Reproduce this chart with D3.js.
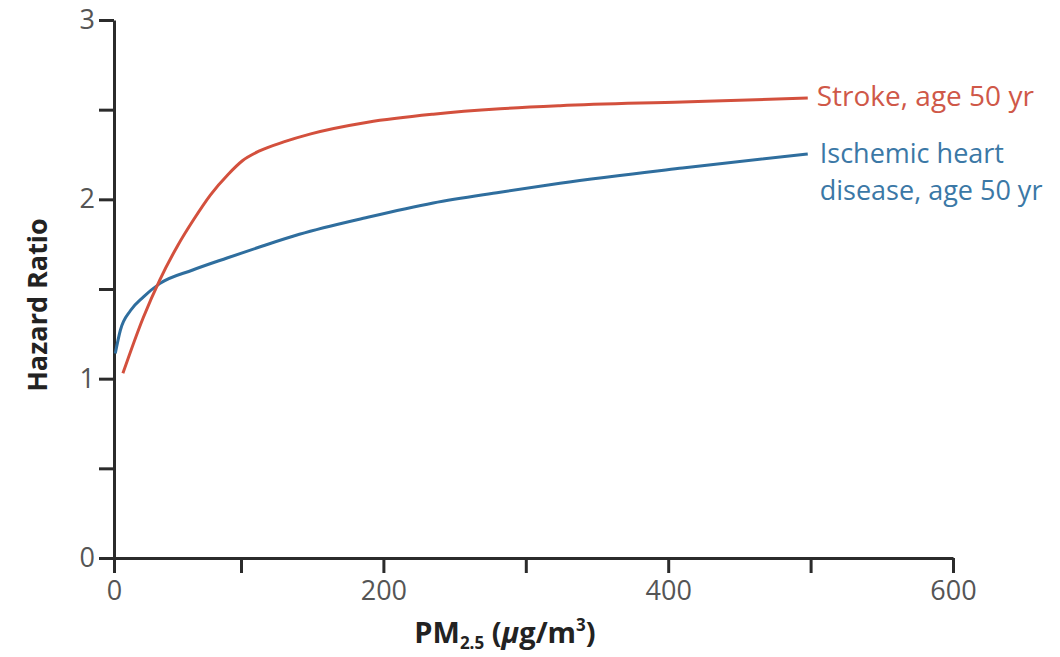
<!DOCTYPE html>
<html>
<head>
<meta charset="utf-8">
<script src="https://cdn.jsdelivr.net/npm/d3@7"></script>
<style>
  body { margin: 0; background: #fff; }
  svg { display: block; font-family: "Open Sans", sans-serif; }
  .axis path, .axis line { stroke: #2b2b2b; stroke-width: 3; }
  .axis text { fill: #555; font-size: 27px; font-family: "Open Sans", sans-serif; }
</style>
</head>
<body>
<svg id="chart"></svg>
<script>
// PM2.5 values (ug/m3) and hazard ratios
const strokeX = [7, 23, 36, 50, 63, 76, 90, 101, 113, 130, 149, 189, 235, 282, 324, 410, 498];
const strokeY = [1.03, 1.34, 1.55, 1.74, 1.89, 2.025, 2.14, 2.215, 2.27, 2.32, 2.365, 2.43, 2.475, 2.505, 2.522, 2.543, 2.565];

const ihdX = [1, 5, 13, 23, 36, 62, 89, 113, 141, 189, 235, 282, 324, 410, 498];
const ihdY = [1.14, 1.27, 1.38, 1.455, 1.53, 1.606, 1.673, 1.734, 1.805, 1.90, 1.98, 2.04, 2.09, 2.175, 2.253];

const xTicks = [0, 100, 200, 300, 400, 500, 600];
const xLabels = [0, 200, 400, 600];
const yTicks = [0, 0.5, 1, 1.5, 2, 2.5, 3];
const yLabels = [0, 1, 2, 3];

const strokeLabel = ["Stroke, age 50 yr"];
const ihdLabel = ["Ischemic heart", "disease, age 50 yr"];

const width = 1060, height = 657;
const red = "#d3503d", blue = "#2f6e9e";

const svg = d3.select("#chart")
    .attr("width", width)
    .attr("height", height);

// the original's first interval is drawn a little short
const x = d3.scaleLinear()
    .domain([0, 100, 600])
    .range([114, 241, 953]);

const y = d3.scaleLinear()
    .domain([0, 3])
    .range([558, 20]);

svg.append("g")
    .attr("class", "axis")
    .attr("transform", `translate(0, ${y(0)})`)
    .call(d3.axisBottom(x)
        .tickValues(xTicks)
        .tickSize(15)
        .tickSizeOuter(0)
        .tickPadding(8)
        .tickFormat(d => xLabels.includes(d) ? d : ""));

svg.append("g")
    .attr("class", "axis")
    .attr("transform", `translate(${x(0)}, 0)`)
    .call(d3.axisLeft(y)
        .tickValues(yTicks)
        .tickSize(15)
        .tickSizeOuter(0)
        .tickPadding(4)
        .tickFormat(d => yLabels.includes(d) ? d : ""));

const line = d3.line()
    .x(d => x(d[0]))
    .y(d => y(d[1]))
    .curve(d3.curveMonotoneX);

svg.append("path")
    .datum(d3.zip(ihdX, ihdY))
    .attr("fill", "none")
    .attr("stroke", blue)
    .attr("stroke-width", 3)
    .attr("d", line);

svg.append("path")
    .datum(d3.zip(strokeX, strokeY))
    .attr("fill", "none")
    .attr("stroke", red)
    .attr("stroke-width", 3)
    .attr("d", line);

// labels at line ends
const sEnd = [strokeX[strokeX.length - 1], strokeY[strokeY.length - 1]];
svg.append("text")
    .attr("x", x(sEnd[0]) + 9)
    .attr("y", y(sEnd[1]) + 8)
    .attr("fill", "#cf5848")
    .attr("font-size", 28)
    .text(strokeLabel[0]);

const iEnd = [ihdX[ihdX.length - 1], ihdY[ihdY.length - 1]];
svg.append("text")
    .attr("x", x(iEnd[0]) + 12)
    .attr("y", y(iEnd[1]) + 9)
    .attr("fill", "#3b78a6")
    .attr("font-size", 27)
    .selectAll("tspan")
    .data(ihdLabel)
    .join("tspan")
    .attr("x", x(iEnd[0]) + 12)
    .attr("dy", (d, i) => i ? 37 : 0)
    .text(d => d);

// axis titles
svg.append("text")
    .attr("transform", `translate(47, 305) rotate(-90)`)
    .attr("text-anchor", "middle")
    .attr("font-size", 27)
    .attr("font-weight", "bold")
    .attr("fill", "#222")
    .text("Hazard Ratio");

const xt = svg.append("text")
    .attr("x", 505)
    .attr("y", 643)
    .attr("text-anchor", "middle")
    .attr("font-size", 29)
    .attr("font-weight", "bold")
    .attr("fill", "#222");
xt.append("tspan").text("PM");
xt.append("tspan").attr("font-size", 17).attr("dy", 6).text("2.5");
xt.append("tspan").attr("dy", -6).text(" (");
xt.append("tspan").attr("font-style", "italic").text("\u03bc");
xt.append("tspan").text("g/m");
xt.append("tspan").attr("font-size", 17).attr("dy", -12).text("3");
xt.append("tspan").attr("dy", 12).text(")");
</script>
</body>
</html>
